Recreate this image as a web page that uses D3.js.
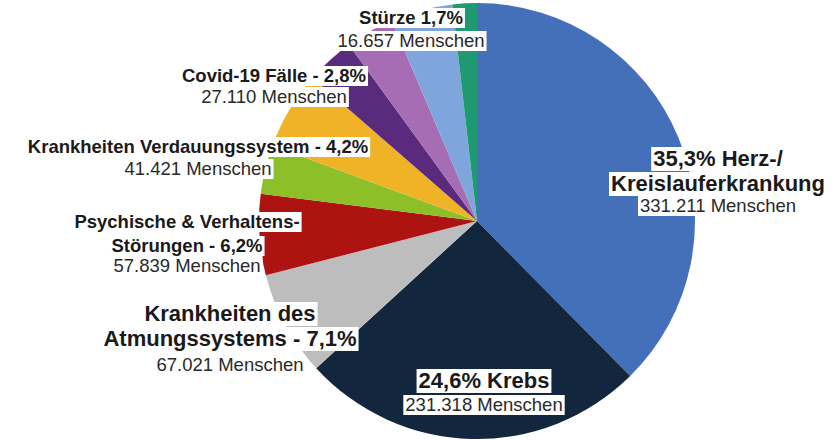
<!DOCTYPE html>
<html lang="de">
<head>
<meta charset="utf-8">
<script src="https://cdn.jsdelivr.net/npm/d3@7"></script>
<style>
  html, body { margin: 0; padding: 0; background: #fff; }
  svg { display: block; }
  .lbl { font-family: "Liberation Sans", Arial, Helvetica, sans-serif; fill: #1a1a1a; }
  .lbl-big { font-size: 22px; font-weight: bold; }
  .lbl-bold { font-size: 18.5px; font-weight: bold; }
  .lbl-count { font-size: 18.5px; fill: #2a2a2a; }
</style>
</head>
<body>
<div id="chart"></div>
<script>
// Todesursachen - Tortendiagramm (Segmentgrößen)
const causes = ['Herz-/Kreislauferkrankung', 'Krebs', 'Krankheiten des Atmungssystems',
  'Psychische & Verhaltens-Störungen', 'Krankheiten Verdauungssystem', 'Covid-19 Fälle',
  'Sonstige A', 'Sonstige B', 'Sonstige C', 'Stürze'];
const shares = [37.6, 25.6, 7.8, 6.0, 3.6, 5.8, 3.6, 3.6, 4.6, 1.8];
const colors = ['#4470b9', '#12263e', '#bdbdbd', '#ad1310', '#8cbf28',
  '#f0b327', '#5a2b7c', '#a66cb4', '#7ea6dc', '#1f9a70'];

// Beschriftungen
const labelTitles = [
  ['35,3% Herz-/', 'Kreislauferkrankung'],
  ['24,6% Krebs'],
  ['Krankheiten des', 'Atmungssystems - 7,1%'],
  ['Psychische & Verhaltens-', 'Störungen - 6,2%'],
  ['Krankheiten Verdauungssystem - 4,2%'],
  ['Covid-19 Fälle - 2,8%'],
  ['Stürze 1,7%']
];
const labelCounts = ['331.211 Menschen', '231.318 Menschen', '67.021 Menschen',
  '57.839 Menschen', '41.421 Menschen', '27.110 Menschen', '16.657 Menschen'];

(function () {
  const width = 837, height = 440;
  const cx = 477, cy = 221, radius = 218;

  // Label-Layout: Mittelpunkt x, Grundlinien je Zeile, große Schrift?
  const labelLayout = [
    { x: 718, ys: [166, 191, 212], big: true },
    { x: 484, ys: [388, 411], big: true },
    { x: 230, ys: [321, 346, 371], big: true },
    { x: 187, ys: [228, 252, 272], big: false },
    { x: 198, ys: [153, 175], big: false },
    { x: 274, ys: [82, 103], big: false },
    { x: 411, ys: [24, 47], big: false }
  ];

  const svg = d3.select('#chart').append('svg')
    .attr('width', width)
    .attr('height', height)
    .attr('viewBox', `0 0 ${width} ${height}`);

  const pie = d3.pie().sort(null).value(d => d.v);
  const arc = d3.arc().innerRadius(0).outerRadius(radius);
  const color = d3.scaleOrdinal().domain(causes).range(colors);

  const data = causes.map((c, i) => ({ c, v: shares[i] }));

  svg.append('g')
    .attr('transform', `translate(${cx},${cy})`)
    .selectAll('path')
    .data(pie(data))
    .join('path')
    .attr('d', arc)
    .attr('fill', d => color(d.data.c));

  const gLabels = svg.append('g');

  labelTitles.forEach((lines, i) => {
    const lay = labelLayout[i];
    const g = gLabels.append('g');
    const all = lines.map((t, j) => ({ t, cls: lay.big ? 'lbl-big' : 'lbl-bold', y: lay.ys[j] }))
      .concat([{ t: labelCounts[i], cls: 'lbl-count', y: lay.ys[lines.length] }]);

    all.forEach(line => {
      const bg = g.append('rect').attr('fill', '#fff');
      const txt = g.append('text')
        .attr('class', 'lbl ' + line.cls)
        .attr('x', lay.x)
        .attr('y', line.y)
        .attr('text-anchor', 'middle')
        .text(line.t);
      const bb = txt.node().getBBox();
      bg.attr('x', bb.x - 2)
        .attr('y', bb.y + 1)
        .attr('width', bb.width + 4)
        .attr('height', bb.height - 1);
    });
  });
})();
</script>
</body>
</html>
